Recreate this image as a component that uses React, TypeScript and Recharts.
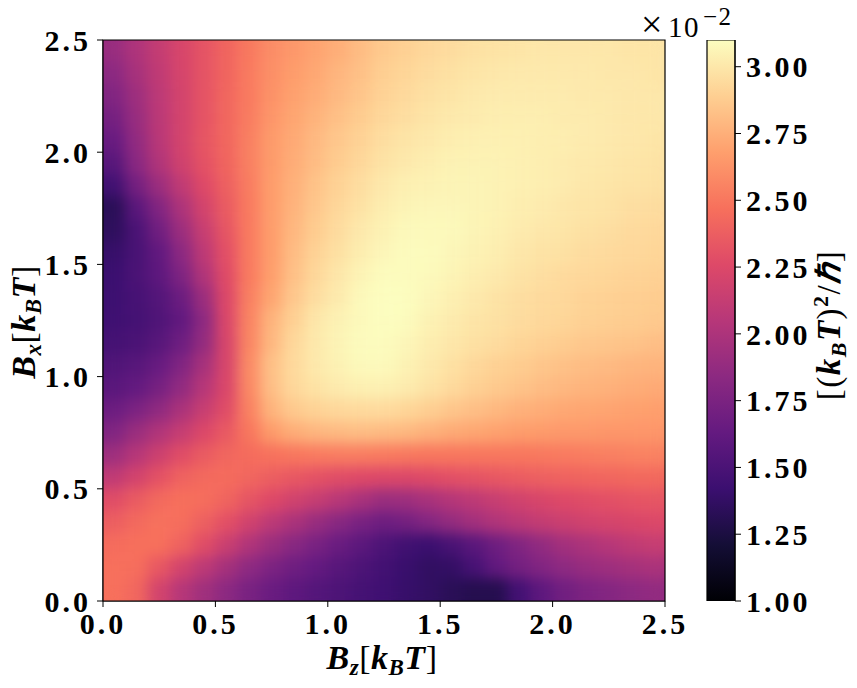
import {
  Bar,
  BarChart,
  Label,
  ReferenceArea,
  Scatter,
  ScatterChart,
  XAxis,
  YAxis,
} from "recharts";

const W = 857;
const H = 688;
const FONT = "'Liberation Serif', serif";

// cell centres along Bz
const bzValues = [
  0.05, 0.15, 0.25, 0.35, 0.45, 0.55, 0.65, 0.75, 0.85, 0.95, 1.05, 1.15, 1.25,
  1.35, 1.45, 1.55, 1.65, 1.75, 1.85, 1.95, 2.05, 2.15, 2.25, 2.35, 2.45,
];
// rows, top to bottom
const bxValues = [
  2.45, 2.35, 2.25, 2.15, 2.05, 1.95, 1.85, 1.75, 1.65, 1.55, 1.45, 1.35, 1.25,
  1.15, 1.05, 0.95, 0.85, 0.75, 0.65, 0.55, 0.45, 0.35, 0.25, 0.15, 0.05,
];
// values in units of 1e-2
const heatRows = [
  [1.9, 2.01, 2.12, 2.22, 2.32, 2.41, 2.51, 2.6, 2.65, 2.7, 2.75, 2.81, 2.87, 2.9, 2.93, 2.95, 2.97, 2.98, 2.99, 3.0, 3.0, 3.0, 3.0, 2.99, 2.99],
  [1.84, 1.97, 2.1, 2.21, 2.32, 2.41, 2.52, 2.61, 2.67, 2.72, 2.78, 2.83, 2.89, 2.92, 2.95, 2.97, 2.99, 3.0, 3.01, 3.01, 3.01, 3.01, 3.0, 3.0, 2.99],
  [1.78, 1.93, 2.08, 2.2, 2.32, 2.42, 2.52, 2.62, 2.69, 2.74, 2.8, 2.85, 2.91, 2.94, 2.97, 2.99, 3.01, 3.02, 3.02, 3.02, 3.02, 3.01, 3.01, 3.0, 3.0],
  [1.72, 1.9, 2.07, 2.2, 2.32, 2.42, 2.53, 2.64, 2.71, 2.77, 2.83, 2.88, 2.93, 2.96, 2.99, 3.01, 3.02, 3.03, 3.03, 3.03, 3.02, 3.02, 3.01, 3.0, 3.0],
  [1.65, 1.87, 2.06, 2.2, 2.33, 2.42, 2.54, 2.66, 2.73, 2.8, 2.86, 2.91, 2.96, 2.99, 3.01, 3.03, 3.04, 3.04, 3.04, 3.03, 3.03, 3.02, 3.01, 3.0, 2.99],
  [1.57, 1.83, 2.02, 2.18, 2.31, 2.41, 2.54, 2.66, 2.74, 2.81, 2.88, 2.93, 2.98, 3.01, 3.03, 3.05, 3.05, 3.05, 3.04, 3.03, 3.02, 3.01, 3.0, 2.99, 2.98],
  [1.45, 1.72, 1.92, 2.1, 2.26, 2.39, 2.53, 2.67, 2.76, 2.84, 2.91, 2.96, 3.01, 3.04, 3.05, 3.06, 3.06, 3.05, 3.04, 3.03, 3.02, 3.0, 2.99, 2.98, 2.97],
  [1.33, 1.58, 1.79, 2.0, 2.2, 2.36, 2.52, 2.67, 2.77, 2.86, 2.93, 2.98, 3.03, 3.06, 3.07, 3.07, 3.06, 3.05, 3.03, 3.02, 3.0, 2.99, 2.98, 2.96, 2.95],
  [1.35, 1.5, 1.7, 1.92, 2.14, 2.33, 2.52, 2.67, 2.79, 2.88, 2.95, 3.01, 3.05, 3.08, 3.08, 3.08, 3.06, 3.04, 3.02, 3.0, 2.99, 2.97, 2.96, 2.94, 2.93],
  [1.4, 1.49, 1.62, 1.84, 2.09, 2.3, 2.52, 2.67, 2.81, 2.91, 2.97, 3.03, 3.07, 3.09, 3.09, 3.07, 3.05, 3.03, 3.0, 2.98, 2.97, 2.95, 2.94, 2.93, 2.92],
  [1.42, 1.5, 1.6, 1.77, 2.02, 2.27, 2.52, 2.68, 2.83, 2.93, 3.0, 3.06, 3.09, 3.09, 3.08, 3.06, 3.03, 3.01, 2.98, 2.96, 2.94, 2.93, 2.92, 2.91, 2.9],
  [1.43, 1.48, 1.55, 1.67, 1.92, 2.25, 2.54, 2.71, 2.86, 2.96, 3.02, 3.08, 3.1, 3.1, 3.07, 3.04, 3.01, 2.98, 2.96, 2.94, 2.93, 2.91, 2.9, 2.89, 2.88],
  [1.44, 1.47, 1.53, 1.62, 1.85, 2.24, 2.56, 2.77, 2.9, 3.0, 3.05, 3.08, 3.1, 3.09, 3.05, 3.02, 2.99, 2.97, 2.95, 2.93, 2.92, 2.9, 2.89, 2.88, 2.87],
  [1.47, 1.5, 1.57, 1.68, 1.88, 2.22, 2.57, 2.79, 2.93, 3.01, 3.06, 3.09, 3.09, 3.07, 3.03, 3.0, 2.97, 2.95, 2.92, 2.9, 2.88, 2.86, 2.85, 2.84, 2.82],
  [1.53, 1.57, 1.65, 1.78, 1.97, 2.22, 2.59, 2.83, 2.94, 3.01, 3.05, 3.08, 3.08, 3.05, 3.01, 2.97, 2.93, 2.9, 2.88, 2.85, 2.83, 2.81, 2.8, 2.78, 2.77],
  [1.58, 1.63, 1.73, 1.87, 2.05, 2.24, 2.58, 2.82, 2.93, 2.98, 3.02, 3.04, 3.04, 3.02, 2.98, 2.94, 2.9, 2.87, 2.84, 2.81, 2.79, 2.77, 2.76, 2.74, 2.73],
  [1.67, 1.76, 1.86, 1.99, 2.14, 2.28, 2.55, 2.77, 2.87, 2.91, 2.93, 2.94, 2.94, 2.92, 2.89, 2.85, 2.82, 2.79, 2.76, 2.74, 2.72, 2.71, 2.7, 2.69, 2.68],
  [1.78, 1.91, 2.02, 2.13, 2.25, 2.35, 2.5, 2.66, 2.74, 2.78, 2.8, 2.81, 2.8, 2.79, 2.76, 2.73, 2.71, 2.69, 2.67, 2.66, 2.65, 2.65, 2.64, 2.64, 2.64],
  [1.93, 2.05, 2.17, 2.28, 2.36, 2.42, 2.45, 2.48, 2.5, 2.52, 2.53, 2.53, 2.52, 2.51, 2.5, 2.5, 2.5, 2.5, 2.5, 2.51, 2.52, 2.53, 2.54, 2.55, 2.55],
  [2.1, 2.2, 2.31, 2.4, 2.44, 2.45, 2.42, 2.38, 2.34, 2.31, 2.28, 2.26, 2.25, 2.25, 2.27, 2.3, 2.32, 2.34, 2.37, 2.39, 2.4, 2.41, 2.42, 2.43, 2.43],
  [2.28, 2.36, 2.44, 2.47, 2.46, 2.41, 2.33, 2.26, 2.19, 2.13, 2.06, 1.98, 1.91, 1.93, 1.98, 2.04, 2.09, 2.14, 2.19, 2.23, 2.26, 2.28, 2.3, 2.32, 2.33],
  [2.38, 2.44, 2.48, 2.46, 2.39, 2.3, 2.19, 2.08, 1.99, 1.9, 1.82, 1.74, 1.68, 1.72, 1.8, 1.88, 1.95, 2.02, 2.07, 2.12, 2.16, 2.19, 2.21, 2.23, 2.25],
  [2.45, 2.47, 2.47, 2.4, 2.28, 2.15, 2.02, 1.91, 1.82, 1.74, 1.66, 1.59, 1.51, 1.45, 1.42, 1.49, 1.58, 1.68, 1.78, 1.87, 1.95, 2.0, 2.05, 2.1, 2.13],
  [2.47, 2.46, 2.34, 2.2, 2.08, 1.96, 1.85, 1.76, 1.69, 1.63, 1.57, 1.51, 1.46, 1.41, 1.37, 1.38, 1.48, 1.62, 1.72, 1.79, 1.85, 1.9, 1.93, 1.96, 1.99],
  [2.47, 2.42, 2.2, 2.05, 1.94, 1.84, 1.74, 1.66, 1.6, 1.55, 1.51, 1.47, 1.44, 1.4, 1.37, 1.33, 1.3, 1.3, 1.46, 1.6, 1.7, 1.76, 1.8, 1.84, 1.87],
];

const axisTicks = [0, 0.5, 1, 1.5, 2, 2.5];
const colorbarTicks = [1, 1.25, 1.5, 1.75, 2, 2.25, 2.5, 2.75, 3];
const colorbarRange = [1, 3.1];
const magmaStops = [
  "#000004", "#140e36", "#3b0f70", "#641a80", "#8c2981", "#b73779",
  "#de4968", "#f7705c", "#fe9f6d", "#fecf92", "#fcfdbf",
];

const colorOf = (v: number) => {
  const t = Math.min(1, Math.max(0, (v - colorbarRange[0]) / (colorbarRange[1] - colorbarRange[0])));
  const p = t * (magmaStops.length - 1);
  const i = Math.min(magmaStops.length - 2, Math.floor(p));
  const a = magmaStops[i];
  const b = magmaStops[i + 1];
  const chan = (s: string, k: number) => parseInt(s.slice(k, k + 2), 16);
  const mix = (k: number) => Math.round(chan(a, k) + (chan(b, k) - chan(a, k)) * (p - i));
  return `rgb(${mix(1)},${mix(3)},${mix(5)})`;
};

const cells = bxValues.flatMap((bx, r) =>
  bzValues.map((bz, c) => ({ bz, bx, value: heatRows[r][c] })),
);

const CELL_W = 562 / bzValues.length;
const CELL_H = 561 / bxValues.length;

const HeatCell = (props: any) => (
  <rect
    x={props.cx - CELL_W / 2}
    y={props.cy - CELL_H / 2}
    width={CELL_W}
    height={CELL_H}
    fill={colorOf(props.payload.value)}
    stroke={colorOf(props.payload.value)}
    strokeWidth={0.5}
  />
);

const tickStyle = {
  fill: "#000",
  fontFamily: FONT,
  fontWeight: 700,
  fontSize: 30,
  letterSpacing: 3,
};

const mathStyle = {
  fontFamily: FONT,
  fontWeight: 700,
  fontStyle: "italic" as const,
  fontSize: 34,
  letterSpacing: 0.5,
  fill: "#000",
};

const AxisName = ({ x, y, rotate, sub }: { x: number; y: number; rotate?: boolean; sub: string }) => (
  <text
    x={x}
    y={y}
    textAnchor="middle"
    transform={rotate ? `rotate(-90 ${x} ${y})` : undefined}
    style={mathStyle}
  >
    B
    <tspan dy={6} fontSize={23}>{sub}</tspan>
    <tspan dy={-6} fontStyle="normal" fontWeight={400}>[</tspan>
    k
    <tspan dy={6} fontSize={23}>B</tspan>
    <tspan dy={-6}>T</tspan>
    <tspan fontStyle="normal" fontWeight={400}>]</tspan>
  </text>
);

const layer = { position: "absolute", left: 0, top: 0 } as const;

const App = () => (
  <div style={{ ...layer, width: W, height: H, background: "#fff" }}>
    <style>{`.heat .recharts-scatter { filter: url(#heatBlur); }`}</style>
    <svg width={0} height={0} style={{ position: "absolute" }}>
      <defs>
        <filter id="heatBlur" x="0" y="0" width="100%" height="100%" colorInterpolationFilters="sRGB">
          <feGaussianBlur stdDeviation={7} />
          <feComponentTransfer>
            <feFuncA type="linear" slope={100} />
          </feComponentTransfer>
        </filter>
        <linearGradient id="magmaBar" x1="0" y1="1" x2="0" y2="0">
          {magmaStops.map((c, i) => (
            <stop key={c} offset={i / (magmaStops.length - 1)} stopColor={c} />
          ))}
        </linearGradient>
      </defs>
    </svg>

    <div className="heat" style={layer}>
      <ScatterChart width={W} height={H} margin={{ top: 40, right: 192, bottom: 0, left: 0 }}>
        <XAxis
          type="number"
          dataKey="bz"
          domain={[0, 2.5]}
          ticks={axisTicks}
          interval={0}
          allowDataOverflow
          height={87}
          tickSize={6}
          tickMargin={6}
          stroke="#000"
          tick={tickStyle}
          tickFormatter={(v: number) => v.toFixed(1)}
        >
          <Label content={() => <AxisName x={382} y={669} sub="z" />} />
        </XAxis>
        <YAxis
          type="number"
          dataKey="bx"
          domain={[0, 2.5]}
          ticks={axisTicks}
          interval={0}
          allowDataOverflow
          width={103}
          tickSize={6}
          tickMargin={6}
          stroke="#000"
          tick={tickStyle}
          tickFormatter={(v: number) => v.toFixed(1)}
        >
          <Label content={() => <AxisName x={35} y={322} rotate sub="x" />} />
        </YAxis>
        <Scatter data={cells} shape={HeatCell} isAnimationActive={false} />
      </ScatterChart>
    </div>

    {/* frame goes in its own layer so the heatmap can't cover it */}
    <div style={layer}>
      <ScatterChart width={W} height={H} margin={{ top: 40, right: 192, bottom: 87, left: 103 }}>
        <XAxis type="number" dataKey="bz" domain={[0, 2.5]} allowDataOverflow hide />
        <YAxis type="number" dataKey="bx" domain={[0, 2.5]} allowDataOverflow hide />
        <ReferenceArea x1={0} x2={2.5} y1={0} y2={2.5} fill="none" fillOpacity={0} stroke="#000" strokeWidth={1.2} />
      </ScatterChart>
    </div>

    <div style={layer}>
      <BarChart
        width={W}
        height={H}
        data={[{ name: "scale", range: colorbarRange }]}
        margin={{ top: 40, right: 32, bottom: 87, left: 707 }}
        barCategoryGap={0}
      >
        <XAxis dataKey="name" hide />
        <YAxis
          orientation="right"
          type="number"
          domain={colorbarRange}
          ticks={colorbarTicks}
          interval={0}
          allowDataOverflow
          width={90}
          tickSize={6}
          tickMargin={5}
          stroke="#000"
          tick={tickStyle}
          tickFormatter={(v: number) => v.toFixed(2)}
        />
        <Bar dataKey="range" fill="url(#magmaBar)" stroke="#000" strokeWidth={1.2} isAnimationActive={false} />
        <text x={641} y={37} fontFamily={FONT} fontSize={29} fill="#000" letterSpacing={1.5}>
          <tspan fontSize={38}>×</tspan>
          <tspan dx={4}>10</tspan>
          <tspan dy={-12} dx={3} fontSize={25}>−2</tspan>
        </text>
        <text
          x={840}
          y={325}
          textAnchor="middle"
          transform="rotate(-90 840 325)"
          style={{ ...mathStyle, fontSize: 33, letterSpacing: 1.5 }}
        >
          <tspan fontStyle="normal" fontWeight={400}>[(</tspan>
          k
          <tspan dy={6} fontSize={22}>B</tspan>
          <tspan dy={-6}>T</tspan>
          <tspan fontStyle="normal" fontWeight={400}>)</tspan>
          <tspan dy={-12} fontSize={22} fontStyle="normal">2</tspan>
          <tspan dy={12} fontStyle="normal" fontWeight={400}>/</tspan>
          ℏ
          <tspan fontStyle="normal" fontWeight={400}>]</tspan>
        </text>
      </BarChart>
    </div>
  </div>
);

export default App;
